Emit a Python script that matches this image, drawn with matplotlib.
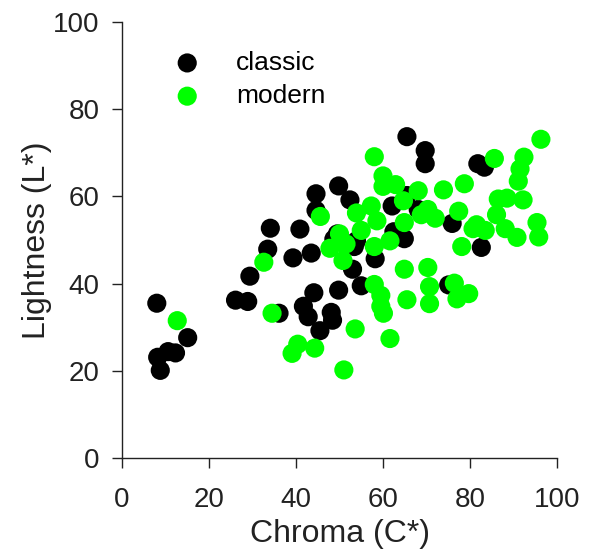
import matplotlib
matplotlib.use("Agg")
import matplotlib.pyplot as plt

plt.rcParams['font.family'] = ['Liberation Sans', 'DejaVu Sans']

classic_c = [8.0, 8.2, 8.8, 10.6, 12.3, 15.1, 26.1, 28.9, 29.4, 33.5, 34.1, 36.1, 39.3, 40.9,
             41.7, 42.8, 43.5, 44.1, 44.6, 44.6, 45.5, 48.1, 48.4, 49.8, 49.8, 49.5, 48.7, 52.4,
             53.0, 53.4, 53.9, 55.0, 58.2, 62.1, 62.5, 64.9, 65.5, 65.5, 69.7, 69.7, 68.1, 75.1,
             75.9, 81.8, 83.3, 82.6]
classic_l = [35.5, 23.1, 20.1, 24.4, 24.1, 27.6, 36.2, 35.9, 41.7, 47.9, 52.7, 33.2, 45.9, 52.5,
             34.8, 32.4, 47.0, 37.9, 56.8, 60.6, 29.2, 33.4, 31.6, 62.4, 38.5, 51.4, 50.2, 59.2,
             43.3, 48.5, 49.8, 39.5, 45.7, 57.8, 51.9, 50.3, 73.7, 60.2, 70.5, 67.5, 57.0, 39.7,
             53.8, 67.5, 66.7, 48.3]

modern_c = [12.7, 32.6, 34.5, 39.1, 40.4, 44.3, 45.6, 47.8, 50.0, 50.4, 51.5, 50.8, 51.0, 53.6,
            53.9, 55.0, 57.3, 58.0, 58.0, 58.0, 58.6, 59.5, 59.5, 60.1, 60.0, 60.0, 61.6, 61.6,
            62.9, 64.7, 64.9, 64.9, 65.5, 68.1, 68.8, 70.3, 70.3, 70.7, 70.7, 72.0, 73.9, 76.4,
            77.0, 77.4, 78.1, 78.7, 79.7, 80.7, 81.5, 83.5, 85.6, 86.1, 86.5, 88.5, 88.1, 90.8,
            91.1, 91.5, 92.4, 92.2, 95.4, 95.8, 96.3]
modern_l = [31.5, 44.9, 33.2, 24.0, 26.1, 25.2, 55.4, 48.1, 51.4, 49.4, 49.1, 45.3, 20.2, 29.6,
            56.2, 52.2, 57.8, 69.1, 48.5, 39.8, 54.4, 37.3, 34.8, 33.2, 64.7, 62.3, 27.4, 49.8,
            62.7, 59.0, 54.0, 43.3, 36.3, 61.3, 55.8, 57.0, 43.7, 39.3, 35.4, 55.0, 61.5, 40.1,
            36.5, 56.6, 48.5, 62.9, 37.7, 52.6, 53.5, 52.2, 68.7, 55.8, 59.4, 59.6, 52.6, 50.6,
            63.5, 66.3, 69.0, 59.2, 54.0, 50.7, 73.1]

ticks = [0, 20, 40, 60, 80, 100]

fig = plt.figure(figsize=(5.91, 5.51), dpi=100)
ax = fig.add_axes([122/591, 1 - 458/551, (557-122)/591, (458-22)/551])

ax.scatter(classic_c, classic_l, s=190, color='black', edgecolors='none', label='classic',
           clip_on=False, zorder=2)
ax.scatter(modern_c, modern_l, s=190, color='#00FF00', edgecolors='none', label='modern',
           clip_on=False, zorder=3)

ax.set_xlim(0, 100)
ax.set_ylim(0, 100)
ax.set_xticks(ticks)
ax.set_yticks(ticks)
for s in ['top', 'right']:
    ax.spines[s].set_visible(False)
for s in ['left', 'bottom']:
    ax.spines[s].set_linewidth(1.0)
    ax.spines[s].set_color('#222222')
ax.tick_params(axis='both', direction='out', length=7, width=1.0, colors='#222222',
               labelsize=20)
ax.tick_params(axis='x', pad=14)
ax.tick_params(axis='y', pad=9)
ax.set_xlabel('Chroma (C*)', fontsize=23, color='#222222', labelpad=4)
ax.set_ylabel('Lightness (L*)', fontsize=23, color='#222222', labelpad=1)

leg = ax.legend(loc='upper left', bbox_to_anchor=(0.065, 0.958), frameon=False, fontsize=19,
                handletextpad=0.85, labelspacing=0.35, markerscale=1.0, borderaxespad=0)

fig.savefig('out.png', dpi=100)
